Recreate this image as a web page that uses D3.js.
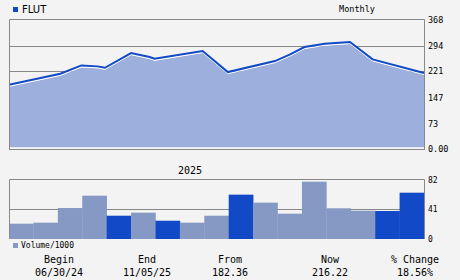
<!DOCTYPE html>
<html><head><meta charset="utf-8">
<script src="https://cdn.jsdelivr.net/npm/d3@7"></script>
<style>
html,body{margin:0;padding:0;background:#f3f3f3;}
svg{display:block;}
</style></head>
<body>
<svg id="c" width="460" height="280"></svg>
<script>
const ticker = "FLUT";
const priceDates = ["2024-06-30","2024-08-30","2024-09-24","2024-10-13","2024-10-22","2024-11-22","2024-12-14","2024-12-20","2025-02-15","2025-03-17","2025-05-12","2025-05-30","2025-06-16","2025-07-10","2025-08-09","2025-09-05","2025-11-05"];
const priceValues = [182.36,213.7,237.6,234.8,230.8,272.6,261.3,256.4,278.3,218.6,249.9,268.9,289.7,299.1,303.9,254.7,216.22];
const priceTicks = [0,73,147,221,294,368];
const priceTickLabels = ["0.00","73","147","221","294","368"];
const volumeMonths = ["2024-06","2024-07","2024-08","2024-09","2024-10","2024-11","2024-12","2025-01","2025-02","2025-03","2025-04","2025-05","2025-06","2025-07","2025-08","2025-09","2025-10"];
const volumeValues = [21.1,22.5,42.7,59.7,32.1,36.3,25.2,22.5,32.1,61.1,50.1,34.9,79,42.3,39,38.6,63.8];
const volumeDown = [0,0,0,0,1,0,1,0,0,1,0,0,0,0,0,1,1];
const volumeTicks = [0,41,82];
const summaryHeads = ["Begin","End","From","Now","% Change"];
const summaryVals = ["06/30/24","11/05/25","182.36","216.22","18.56%"];

const svg = d3.select("#c");
const L = 9, R = 424;
const mono = "'DejaVu Sans Mono', monospace";
const grid = "#888888";

// price panel
const parse = d3.timeParse("%Y-%m-%d");
const x = d3.scaleTime().domain([parse(priceDates[0]), parse(priceDates[priceDates.length-1])]).range([L, R]);
const y = d3.scaleLinear().domain([0, 368]).range([149, 19.5]);
const pts = priceDates.map((d,i)=>({d:parse(d), v:priceValues[i]}));

svg.append("g").selectAll("line").data(priceTicks.filter(t=>t>0 && t<368)).join("line")
  .attr("x1",L).attr("x2",R).attr("y1",d=>Math.round(y(d))+0.5).attr("y2",d=>Math.round(y(d))+0.5)
  .attr("stroke",grid).attr("stroke-width",1);

svg.append("path").datum(pts)
  .attr("d", d3.area().x(d=>x(d.d)).y0(y(0)-1.5).y1(d=>y(d.v)+2))
  .attr("fill","#9cafdd");
svg.append("path").datum(pts)
  .attr("d", d3.line().x(d=>x(d.d)).y(d=>y(d.v)+1.5))
  .attr("fill","none").attr("stroke","#ffffff").attr("stroke-width",1);
svg.append("path").datum(pts)
  .attr("d", d3.line().x(d=>x(d.d)).y(d=>y(d.v)))
  .attr("fill","none").attr("stroke","#1149c6").attr("stroke-width",2);
svg.append("line").attr("x1",L).attr("x2",R).attr("y1",148).attr("y2",148).attr("stroke","#ffffff");

// frame
svg.append("path").attr("d",`M${L+0.5},149.5V19.5H${R+0.5}V149.5M${L},149.5H${R+1}`)
  .attr("fill","none").attr("stroke",grid).attr("stroke-width",1);

const yAxis = d3.axisRight(y).tickValues(priceTicks).tickFormat((d,i)=>priceTickLabels[i]).tickSize(0).tickPadding(4);
const ya = svg.append("g").attr("transform",`translate(${R},0)`).call(yAxis);
ya.select(".domain").remove();
ya.selectAll("text").attr("font-family",mono).attr("font-size","8.5px").attr("fill","#000");

// legend / title
svg.append("rect").attr("x",13).attr("y",7).attr("width",5).attr("height",5).attr("fill","#1149c6");
svg.append("text").attr("x",22).attr("y",13).text(ticker).attr("font-family","'DejaVu Sans', sans-serif").attr("font-size","10px").attr("fill","#000");
svg.append("text").attr("x",357).attr("y",12).attr("text-anchor","middle").text("Monthly").attr("font-family",mono).attr("font-size","8.5px").attr("fill","#000");

// volume panel
const xb = d3.scaleBand().domain(volumeMonths).range([L, R]).padding(0);
const yv = d3.scaleLinear().domain([0, 82]).range([239, 179.5]);

svg.append("line").attr("x1",L).attr("x2",R).attr("y1",Math.round(yv(41))+0.5).attr("y2",Math.round(yv(41))+0.5).attr("stroke",grid);
svg.append("g").selectAll("rect").data(volumeValues).join("rect")
  .attr("x",(d,i)=>xb(volumeMonths[i])).attr("width",xb.bandwidth()+0.3)
  .attr("y",d=>yv(d)).attr("height",d=>yv(0)-yv(d))
  .attr("fill",(d,i)=>volumeDown[i]?"#1149c6":"#8599c4");
svg.append("path").attr("d",`M${L+0.5},239V179.5H${R+0.5}V239`).attr("fill","none").attr("stroke",grid);

const vAxis = d3.axisRight(yv).tickValues(volumeTicks).tickSize(0).tickPadding(4);
const va = svg.append("g").attr("transform",`translate(${R},0)`).call(vAxis);
va.select(".domain").remove();
va.selectAll("text").attr("font-family",mono).attr("font-size","8px").attr("fill","#000");

svg.append("text").attr("x",xb("2025-01")+xb.bandwidth()/2-2).attr("y",174).attr("text-anchor","middle")
  .text("2025").attr("font-family",mono).attr("font-size","10px").attr("fill","#000");

svg.append("rect").attr("x",13).attr("y",243).attr("width",5).attr("height",5).attr("fill","#8599c4");
svg.append("text").attr("x",21).attr("y",248).text("Volume/1000").attr("font-family",mono).attr("font-size","8px").attr("fill","#000");

// summary
const cx = [59,147,230,330,415];
svg.append("g").selectAll("text").data(summaryHeads).join("text")
  .attr("x",(d,i)=>cx[i]).attr("y",263).attr("text-anchor","middle").text(d=>d)
  .attr("font-family",mono).attr("font-size","10px").attr("fill","#000");
svg.append("g").selectAll("text").data(summaryVals).join("text")
  .attr("x",(d,i)=>cx[i]).attr("y",276).attr("text-anchor","middle").text(d=>d)
  .attr("font-family",mono).attr("font-size","10px").attr("fill","#000");
</script>
</body></html>
